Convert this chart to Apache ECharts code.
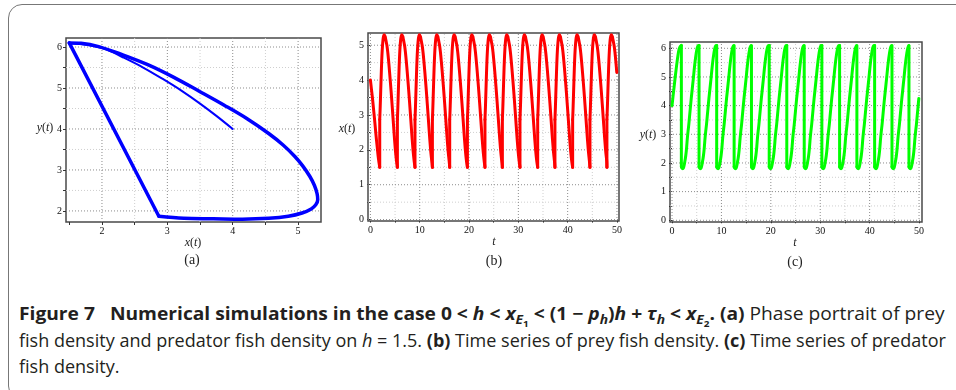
<!DOCTYPE html>
<html>
<head>
<meta charset="utf-8">
<script src="https://cdn.jsdelivr.net/npm/echarts@6/dist/echarts.min.js"></script>
<style>
  body { margin: 0; background: #fff; }
  #wrap { position: relative; width: 956px; height: 390px; overflow: hidden; }
  #box { position: absolute; left: 8px; top: 4px; width: 1000px; height: 396px; border: 1.5px solid #777; border-radius: 14px; box-sizing: border-box; }
  #chart { position: absolute; left: 0; top: 0; width: 956px; height: 280px; }
  .cap { position: absolute; left: 19px; white-space: nowrap; font-family: 'Open Sans', sans-serif; font-size: 18px; line-height: 22px; color: #231f20; transform-origin: 0 50%; }
  .cap sub { font-size: 0.72em; line-height: 0; vertical-align: -0.3em; }
</style>
</head>
<body>
<div id="wrap">
  <div id="box"></div>
  <div id="chart"></div>
  <div class="cap" id="cap1" style="top:302px"><b>Figure 7</b>&nbsp;&nbsp;&nbsp;<b>Numerical simulations in the case 0 &lt; <i>h</i> &lt; <i>x</i><sub><i>E</i><sub>1</sub></sub> &lt; (1 − <i>p<sub>h</sub></i>)<i>h</i> + <i>τ<sub>h</sub></i> &lt; <i>x</i><sub><i>E</i><sub>2</sub></sub>.</b> <b>(a)</b> Phase portrait of prey</div>
  <div class="cap" id="cap2" style="top:329px">fish density and predator fish density on <i>h</i> = 1.5. <b>(b)</b> Time series of prey fish density. <b>(c)</b> Time series of predator</div>
  <div class="cap" id="cap3" style="top:355px">fish density.</div>
</div>
<script>
// impulse instants (x reaches h = 1.5)
const jumpTimes = [1.89, 5.47, 9.04, 12.57, 16.08, 19.67, 23.23, 26.76, 30.33, 33.92, 37.42, 41.01, 44.52, 47.96];
const preJump = [1.5, 6.1];   // (x, y) just before the impulse
const postJump = [2.87, 1.87]; // (x, y) just after it

// one period of the limit cycle, s = time since the impulse
const cycleS = [0, 0.1, 0.2, 0.3, 0.4, 0.5, 0.6, 0.7, 0.8, 0.9, 1.0, 1.1, 1.2, 1.35, 1.5, 1.65, 1.8, 2.0, 2.2, 2.4, 2.6, 2.8, 3.0, 3.2, 3.4];
const cycleX = [2.87, 3.25, 3.7, 4.15, 4.55, 4.85, 5.06, 5.2, 5.27, 5.3, 5.29, 5.25, 5.18, 5.07, 4.95, 4.77, 4.55, 4.22, 3.87, 3.5, 3.1, 2.7, 2.3, 1.95, 1.68];
const cycleY = [1.87, 1.82, 1.81, 1.8, 1.82, 1.87, 1.95, 2.05, 2.15, 2.27, 2.42, 2.62, 2.84, 3.1, 3.33, 3.61, 3.89, 4.25, 4.58, 4.91, 5.26, 5.57, 5.82, 6.01, 6.09];

// start from (4, 4) up to the first impulse
const transT = [0, 0.2, 0.4, 0.6, 0.8, 1.0, 1.2, 1.4, 1.6];
const transX = [4.0, 3.75, 3.5, 3.22, 2.93, 2.63, 2.32, 2.05, 1.78];
const transY = [4.0, 4.32, 4.62, 4.93, 5.22, 5.5, 5.75, 5.95, 6.05];

const tEnd = 50;

// axis ticks / labels
const aXLabels = [2, 3, 4, 5];
const aXTicks = [1.5, 2, 2.5, 3, 3.5, 4, 4.5, 5];
const aYLabels = [2, 3, 4, 5, 6];
const aYTicks = [2, 2.5, 3, 3.5, 4, 4.5, 5, 5.5, 6];
const tLabels = [0, 10, 20, 30, 40, 50];
const tTicks = [0, 5, 10, 15, 20, 25, 30, 35, 40, 45, 50];
const bYLabels = [0, 1, 2, 3, 4, 5];
const bYTicks = [0, 0.5, 1, 1.5, 2, 2.5, 3, 3.5, 4, 4.5, 5];
const cYLabels = [0, 1, 2, 3, 4, 5, 6];
const cYTicks = [0, 0.5, 1, 1.5, 2, 2.5, 3, 3.5, 4, 4.5, 5, 5.5, 6];

// axis extents (frame edges)
const aXRange = [1.45, 5.35], aYRange = [1.73, 6.22];
const bXRange = [-0.49, 50.41], bYRange = [-0.04, 5.35];
const cXRange = [-0.41, 50.6], cYRange = [-0.06, 6.22];

// caption lines squeezed to the width of the original
function fitLine(id, width) {
  const el = document.getElementById(id);
  const k = width / el.offsetWidth;
  el.style.transform = 'scaleX(' + k + ')';
  return k;
}
fitLine('cap1', 926);
const k2 = fitLine('cap2', 927);
document.getElementById('cap3').style.transform = 'scaleX(' + k2 + ')';

// ---- build series data ----
function timeSeries(trans, cyc, jumpVal) {
  const arcs = [];
  const jumps = [];
  transT.forEach((t, i) => arcs.push([t, trans[i]]));
  arcs.push([jumpTimes[0], jumpVal[0]]);
  arcs.push([jumpTimes[0], '-']);
  jumpTimes.forEach((t0, k) => {
    jumps.push([t0, jumpVal[0]], [t0, jumpVal[1]], [t0, '-']);
    const next = jumpTimes[k + 1];
    cycleS.forEach((s, i) => {
      const t = t0 + s;
      if (t <= tEnd && (next === undefined || t < next)) arcs.push([t, cyc[i]]);
    });
    if (next !== undefined) {
      arcs.push([next, jumpVal[0]]);
      arcs.push([next, '-']);
    }
  });
  return { arcs, jumps };
}
const xs = timeSeries(transX, cycleX, [preJump[0], postJump[0]]);
const ys = timeSeries(transY, cycleY, [preJump[1], postJump[1]]);

const phaseTrans = transX.map((x, i) => [x, transY[i]]).concat([preJump]);
const phaseLoop = cycleX.map((x, i) => [x, cycleY[i]]).concat([preJump]);
const phaseJump = [preJump, postJump];

// ---- helpers ----
const serif = 'Liberation Serif';
function axis(gridIndex, range, labels, ticks) {
  return {
    type: 'value', gridIndex, min: range[0], max: range[1],
    axisLine: { show: false },
    splitLine: { show: false },
    axisTick: { show: true, customValues: ticks, length: 3, lineStyle: { color: '#333', width: 1 } },
    axisLabel: { customValues: labels, color: '#111', fontSize: 10, fontFamily: serif, margin: 4 }
  };
}
// dotted grid lines drawn as plain line series through the axes
function gridSeries(idx, xv, yv, xr, yr, color) {
  const d = [];
  xv.forEach(v => d.push([v, yr[0]], [v, yr[1]], [v, '-']));
  yv.forEach(v => d.push([xr[0], v], [xr[1], v], [xr[0], '-']));
  return {
    type: 'line', xAxisIndex: idx, yAxisIndex: idx, data: d, z: 1, silent: true,
    showSymbol: false, connectNulls: false,
    lineStyle: { color, width: 1, type: [1, 2] }
  };
}
const majorColor = '#8c8c8c', minorColor = '#cfcfcf';
function curve(idx, data, color, width, smooth) {
  return {
    type: 'line', xAxisIndex: idx, yAxisIndex: idx, data, z: 5,
    showSymbol: false, smooth, connectNulls: false, silent: true,
    lineStyle: { color, width, cap: 'round', join: 'round' }
  };
}
function label(text, x, y, size) {
  return {
    type: 'text', x, y, silent: true,
    style: {
      text, x: 0, y: 0, align: 'center', verticalAlign: 'middle', fill: '#222',
      fontFamily: serif, fontSize: size,
      rich: { i: { fontStyle: 'italic', fontFamily: serif, fontSize: size, fill: '#222' } }
    }
  };
}
const isMajor = v => Number.isInteger(v);
const tMajor = tTicks.filter(v => v % 10 === 0), tMinor = tTicks.filter(v => v % 10 !== 0);

const chart = echarts.init(document.getElementById('chart'));
chart.setOption({
  animation: false,
  grid: [
    { left: 66, top: 38, width: 255, height: 184, show: true, borderColor: '#4a4a4a', borderWidth: 1.5, backgroundColor: '#fff' },
    { left: 368, top: 33, width: 251, height: 188, show: true, borderColor: '#4a4a4a', borderWidth: 1.5, backgroundColor: '#fff' },
    { left: 670, top: 42, width: 252, height: 180, show: true, borderColor: '#4a4a4a', borderWidth: 1.5, backgroundColor: '#fff' }
  ],
  xAxis: [
    axis(0, aXRange, aXLabels, aXTicks),
    axis(1, bXRange, tLabels, tTicks),
    axis(2, cXRange, tLabels, tTicks)
  ],
  yAxis: [
    axis(0, aYRange, aYLabels, aYTicks),
    axis(1, bYRange, bYLabels, bYTicks),
    axis(2, cYRange, cYLabels, cYTicks)
  ],
  series: [
    gridSeries(0, aXTicks.filter(v => !isMajor(v) && v > 1.5), aYTicks.filter(v => !isMajor(v)), aXRange, aYRange, minorColor),
    gridSeries(0, aXTicks.filter(isMajor), aYTicks.filter(isMajor), aXRange, aYRange, majorColor),
    gridSeries(1, tMinor, bYTicks.filter(v => !isMajor(v)), bXRange, bYRange, minorColor),
    gridSeries(1, tMajor, bYTicks.filter(isMajor), bXRange, bYRange, majorColor),
    gridSeries(2, tMinor, cYTicks.filter(v => !isMajor(v)), cXRange, cYRange, minorColor),
    gridSeries(2, tMajor, cYTicks.filter(isMajor), cXRange, cYRange, majorColor),
    curve(0, phaseTrans, '#0000ff', 2, 0.35),
    curve(0, phaseLoop, '#0000ff', 3.5, 0.35),
    curve(0, phaseJump, '#0000ff', 3.5, false),
    curve(1, xs.arcs, '#ff0000', 3, 0.35),
    curve(1, xs.jumps, '#ff0000', 3, false),
    curve(2, ys.arcs, '#00ff00', 3, 0.35),
    curve(2, ys.jumps, '#00ff00', 3, false)
  ],
  graphic: [
    label('{i|y}({i|t})', 45, 128, 12),
    label('{i|x}({i|t})', 193, 243, 12),
    label('(a)', 192, 260, 14),
    label('{i|x}({i|t})', 347, 129, 12),
    label('{i|t}', 494, 242, 12),
    label('(b)', 494, 261, 14),
    label('{i|y}({i|t})', 648, 135, 12),
    label('{i|t}', 795, 243, 12),
    label('(c)', 795, 262, 14)
  ]
});
</script>
</body>
</html>
